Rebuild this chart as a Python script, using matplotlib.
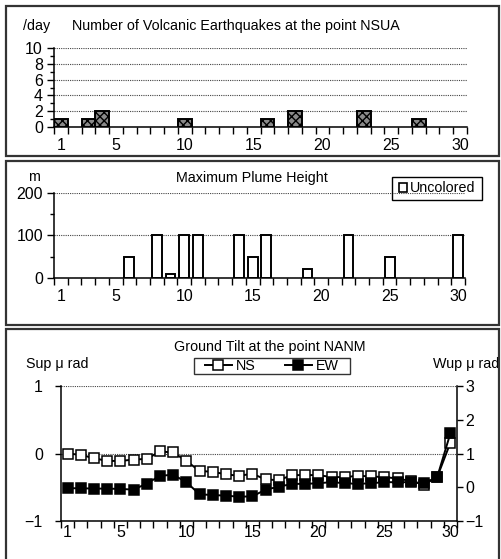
import numpy as np
import matplotlib
matplotlib.use("Agg")
import matplotlib.pyplot as plt
from matplotlib.patches import Rectangle, Patch
from matplotlib.lines import Line2D
from matplotlib import font_manager

W, H = 501, 559

days = list(range(1, 31))
xlabels = ["1", "5", "10", "15", "20", "25", "30"]
xlabel_pos = [1, 5, 10, 15, 20, 25, 30]

quakes = [1, 0, 1, 2, 0, 0, 0, 0, 0, 1, 0, 0, 0, 0, 0,
          1, 0, 2, 0, 0, 0, 0, 2, 0, 0, 0, 1, 0, 0, 0]
plume = [0, 0, 0, 0, 0, 50, 0, 100, 10, 100, 100, 0, 0, 100, 50,
         100, 0, 0, 20, 0, 0, 100, 0, 0, 50, 0, 0, 0, 0, 100]
tilt_ns = [0.0, -0.02, -0.07, -0.11, -0.11, -0.09, -0.08, 0.03, 0.015, -0.11,
           -0.26, -0.27, -0.31, -0.33, -0.30, -0.385, -0.395, -0.32, -0.32, -0.32,
           -0.35, -0.35, -0.33, -0.34, -0.35, -0.37, -0.41, -0.46, -0.35, 0.16]
tilt_ew = [-0.03, -0.03, -0.04, -0.04, -0.05, -0.07, 0.11, 0.34, 0.37, 0.15,
           -0.21, -0.23, -0.25, -0.28, -0.27, -0.07, 0.015, 0.10, 0.10, 0.12,
           0.15, 0.12, 0.10, 0.12, 0.15, 0.15, 0.15, 0.12, 0.30, 1.60]

names = {f.name for f in font_manager.fontManager.ttflist}
TICKFONT = "Liberation Sans Narrow" if "Liberation Sans Narrow" in names else "Liberation Sans"
TICKSIZE = 12.5 if TICKFONT == "Liberation Sans Narrow" else 11.5
TEXTFONT = "Liberation Sans"
TEXTSIZE = 10.3
plt.rcParams['font.family'] = [TEXTFONT, 'DejaVu Sans']
plt.rcParams['hatch.linewidth'] = 1.0

fig = plt.figure(figsize=(W / 100, H / 100), dpi=100)


def rect(l, r, top, bottom):
    return [l / W, 1 - bottom / H, (r - l) / W, (bottom - top) / H]


def ftext(x, y, s, **kw):
    fig.text(x / W, 1 - y / H, s, **kw)


def fbox(l, r, top, bot, lw, ec):
    fig.add_artist(Rectangle((l / W, 1 - bot / H), (r - l) / W, (bot - top) / H,
                             transform=fig.transFigure, fill=False,
                             lw=lw, ec=ec, zorder=5))


# panel boxes
for (top, bot) in [(6, 156), (161, 325), (329, 565)]:
    fbox(6, 499, top, bot, 1.6, '#333333')


def style_x(ax, pad):
    ax.set_xlim(0.5, 30.5)
    ax.set_xticks(np.arange(0.5, 31, 1.0))
    ax.set_xticklabels([])
    ax.set_xticks(xlabel_pos, minor=True)
    ax.set_xticklabels(xlabels, minor=True, fontfamily=TICKFONT, fontsize=TICKSIZE)
    ax.tick_params(axis='x', which='major', direction='out', length=5, width=1.0)
    ax.tick_params(axis='x', which='minor', length=0, pad=pad)
    for s in ['top', 'right']:
        ax.spines[s].set_visible(False)
    ax.spines['left'].set_linewidth(1.1)
    ax.spines['bottom'].set_linewidth(1.1)


def style_y(ax, ticks, minor, labels=None):
    ax.set_yticks(ticks)
    ax.set_yticklabels(labels if labels else [str(t) for t in ticks],
                       fontfamily=TICKFONT, fontsize=TICKSIZE)
    if minor is not None:
        ax.set_yticks(minor, minor=True)
    ax.tick_params(axis='y', which='major', direction='out', length=5, width=1.0, pad=3)
    ax.tick_params(axis='y', which='minor', direction='out', length=3, width=1.0)
    ax.yaxis.grid(True, which='major', ls=(0, (1, 1)), color='#444444', lw=0.8)
    ax.set_axisbelow(True)


# ---- Panel 1: earthquakes
ax1 = fig.add_axes(rect(54, 467, 48, 127))
qx = [d for d, v in zip(days, quakes) if v > 0]
qv = [v for v in quakes if v > 0]
ax1.bar(qx, qv, width=1.0, facecolor='#8a8a8a', edgecolor='black',
        hatch='xxxx', lw=1.4, zorder=3)
ax1.set_ylim(0, 10)
style_x(ax1, 8)
style_y(ax1, [0, 2, 4, 6, 8, 10], [1, 3, 5, 7, 9])
ftext(23, 26, "/day", fontsize=TEXTSIZE, va='center', ha='left')
ftext(72, 26, "Number of Volcanic Earthquakes at the point NSUA",
      fontsize=TEXTSIZE, va='center', ha='left')

# ---- Panel 2: plume
ax2 = fig.add_axes(rect(54, 465, 193, 278))
px = [d for d, v in zip(days, plume) if v > 0]
pv = [v for v in plume if v > 0]
ax2.bar(px, pv, width=0.72, facecolor='white', edgecolor='black', lw=1.4, zorder=3)
ax2.set_ylim(0, 200)
style_x(ax2, 8)
style_y(ax2, [0, 100, 200], [50, 150])
ftext(34, 177, "m", fontsize=TEXTSIZE, va='center', ha='center')
ftext(252, 178, "Maximum Plume Height", fontsize=TEXTSIZE, va='center', ha='center')
fbox(392, 482, 177, 200, 1.0, 'black')
fig.legend(handles=[Patch(facecolor='white', edgecolor='black', lw=1.2,
                          label='Uncolored')],
           loc='center', bbox_to_anchor=(437 / W, 1 - 188.5 / H),
           fontsize=TEXTSIZE, frameon=False,
           handlelength=0.6, handleheight=0.6, handletextpad=0.2,
           borderpad=0.2, borderaxespad=0)

# ---- Panel 3: tilt
ax3 = fig.add_axes(rect(61, 457, 386, 521))
ax3.plot(days, tilt_ns, color='black', lw=1.4, marker='s', ms=6.8,
         mfc='white', mec='black', mew=1.1, zorder=3)
ax3.set_ylim(-1, 1)
style_x(ax3, 3)
style_y(ax3, [-1, 0, 1], None, ["\u22121", "0", "1"])
ax3.tick_params(axis='y', pad=9, length=4)
ax3b = ax3.twinx()
ax3b.plot(days, tilt_ew, color='black', lw=1.4, marker='s', ms=6.8,
          mfc='black', mec='black', mew=1.1, zorder=3)
ax3b.set_ylim(-1, 3)
ax3b.set_yticks([-1, 0, 1, 2, 3])
ax3b.set_yticklabels(["\u22121", "0", "1", "2", "3"], fontfamily=TICKFONT, fontsize=TICKSIZE)
ax3b.tick_params(axis='y', direction='out', length=4, width=1.0, pad=2)
ax3b.spines['top'].set_visible(False)
ax3b.spines['right'].set_linewidth(1.1)
ax3b.spines['left'].set_visible(False)
ax3b.spines['bottom'].set_visible(False)
ax3.spines['right'].set_visible(False)

ftext(270, 347, "Ground Tilt at the point NANM", fontsize=TEXTSIZE, va='center', ha='center')
ftext(26, 364, "Sup \u03bc rad", fontsize=TEXTSIZE, va='center', ha='left')
ftext(499, 364, "Wup \u03bc rad", fontsize=TEXTSIZE, va='center', ha='right')
h_ns = Line2D([], [], color='black', lw=1.4, marker='s', ms=6.8, mfc='white',
              mec='black', mew=1.1, label='NS')
h_ew = Line2D([], [], color='black', lw=1.4, marker='s', ms=6.8, mfc='black',
              mec='black', mew=1.1, label='EW')
fbox(194, 350, 358, 374, 1.0, '#333333')
fig.legend(handles=[h_ns, h_ew], loc='center', ncol=2,
           bbox_to_anchor=(272 / W, 1 - 366 / H), fontsize=TEXTSIZE,
           frameon=False, handlelength=1.9,
           handletextpad=0.3, columnspacing=2.0, borderpad=0.1,
           borderaxespad=0)

fig.savefig("out.png", dpi=100)
